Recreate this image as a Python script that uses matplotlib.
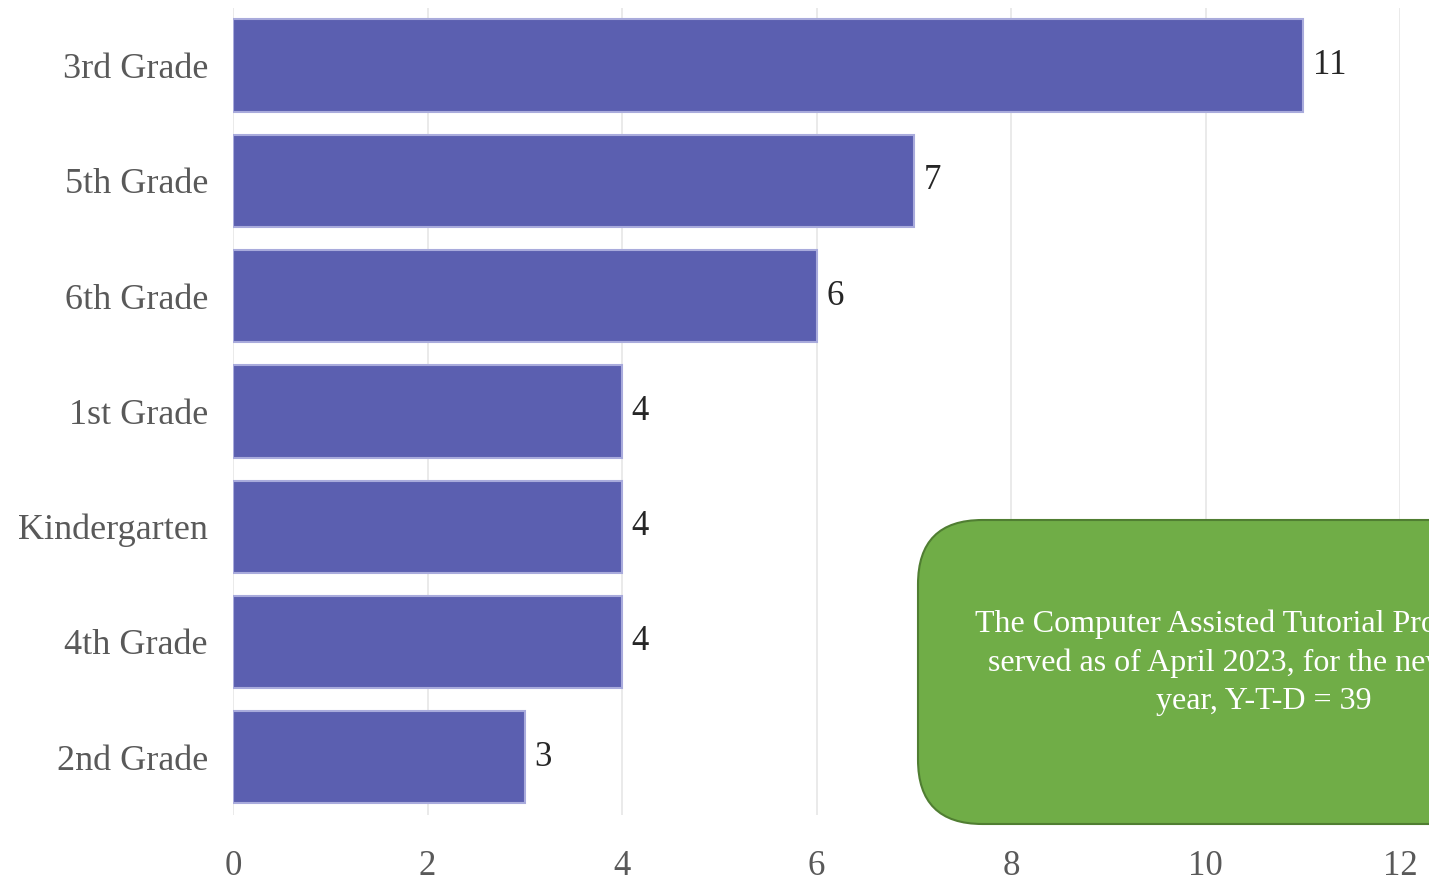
import matplotlib
matplotlib.use("Agg")
import matplotlib.pyplot as plt
from matplotlib.patches import FancyBboxPatch

plt.rcParams['font.family'] = ['Liberation Serif', 'DejaVu Serif']

grades = ["3rd Grade", "5th Grade", "6th Grade", "1st Grade",
          "Kindergarten", "4th Grade", "2nd Grade"]
students = [11, 7, 6, 4, 4, 4, 3]
x_ticks = [0, 2, 4, 6, 8, 10, 12]
note_text = ("The Computer Assisted Tutorial Program has\n"
             "served as of April 2023, for the new school\n"
             "year, Y-T-D = 39")

fig = plt.figure(figsize=(14.29, 8.81), dpi=100)
ax = fig.add_axes([0.163, 0.075, 0.817, 0.916])

ypos = list(range(len(grades)))
ax.barh(ypos, students, height=0.8, color="#5b5fb0",
        edgecolor="#a9abdc", linewidth=1.5, zorder=3)
for y, v in zip(ypos, students):
    ax.text(v + 0.1, y, str(v), va="center", ha="left",
            fontsize=25, color="#262626")

ax.set_yticks(ypos)
ax.set_yticklabels(grades)
ax.set_ylim(len(grades) - 0.5, -0.5)
ax.set_xlim(0, 12)
ax.set_xticks(x_ticks)
ax.tick_params(axis="y", length=0, labelsize=26, labelcolor="#595959", pad=18)
ax.tick_params(axis="x", length=0, labelsize=25, labelcolor="#595959", pad=25)
ax.grid(axis="x", color="#e6e6e6", linewidth=1.2, zorder=0)
for s in ax.spines.values():
    s.set_visible(False)

# green callout box, running off the right edge
W, H = 1429.0, 881.0
box = FancyBboxPatch((918 / W, 1 - 824 / H), 690 / W, 304 / H,
                     boxstyle="round,pad=0,rounding_size=0.045",
                     transform=fig.transFigure, facecolor="#70ad47",
                     edgecolor="#507e32", linewidth=1.5, zorder=5,
                     mutation_aspect=W / H)
fig.add_artist(box)
fig.text(1264 / W, 1 - 663 / H, note_text, ha="center", va="center",
         color="white", fontsize=23, linespacing=1.42, zorder=6)

fig.savefig("out.png", dpi=100)
